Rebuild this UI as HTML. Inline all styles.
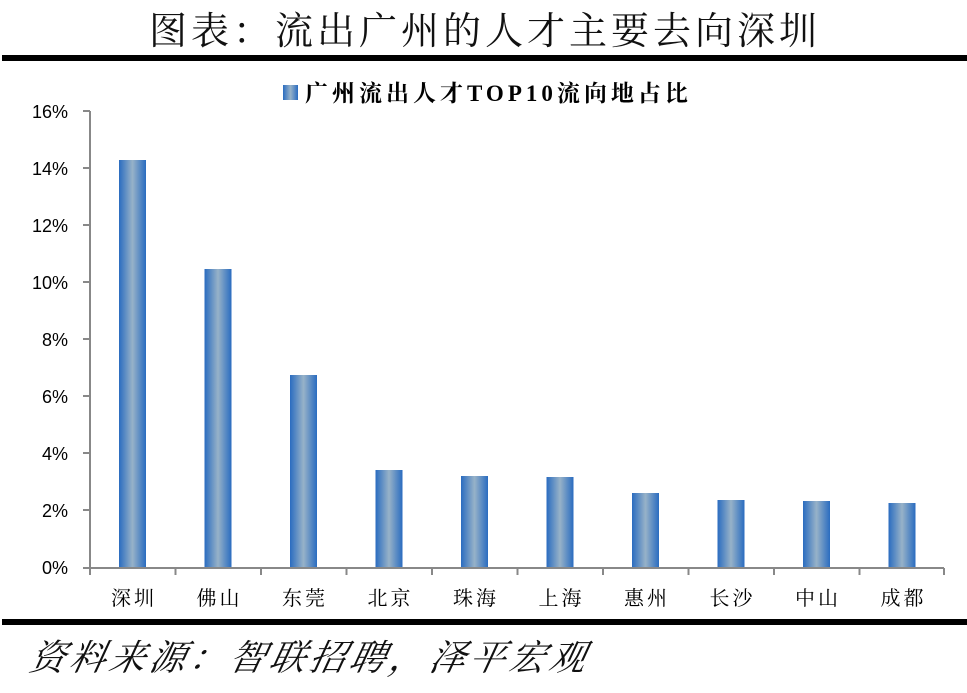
<!DOCTYPE html>
<html><head><meta charset="utf-8"><style>
body{margin:0;background:#fff;width:967px;height:688px;overflow:hidden}
</style></head><body>
<svg width="967" height="688" xmlns="http://www.w3.org/2000/svg">
<defs><linearGradient id="g" x1="0" x2="1" y1="0" y2="0">
<stop offset="0" stop-color="#2a6cc0"/><stop offset="0.5" stop-color="#97b2c8"/><stop offset="1" stop-color="#2a6cc0"/></linearGradient></defs>
<text x="485" y="44" text-anchor="middle" font-family="Liberation Serif, Noto Serif CJK SC, serif" font-size="38" letter-spacing="4" fill="#111">图表：流出广州的人才主要去向深圳</text>
<rect x="2" y="55" width="965" height="6" fill="#000"/>
<rect x="283" y="85" width="15" height="15" fill="url(#g)"/>
<text x="305" y="101" font-family="Liberation Serif, Noto Serif CJK SC, serif" font-weight="bold" font-size="23" letter-spacing="4" fill="#000">广州流出人才TOP10流向地占比</text>
<g font-family="Liberation Sans, sans-serif" font-size="18" fill="#000" text-anchor="end">
<text x="68" y="118">16%</text><text x="68" y="175">14%</text><text x="68" y="232">12%</text><text x="68" y="289">10%</text><text x="68" y="346">8%</text><text x="68" y="403">6%</text><text x="68" y="460">4%</text><text x="68" y="517">2%</text><text x="68" y="574">0%</text>
</g>
<g stroke="#888" stroke-width="2">
<line x1="90" y1="111" x2="90" y2="568"/><line x1="83" y1="568" x2="944" y2="568"/>
<line x1="83" y1="111" x2="90" y2="111"/><line x1="83" y1="168" x2="90" y2="168"/><line x1="83" y1="225" x2="90" y2="225"/><line x1="83" y1="282" x2="90" y2="282"/><line x1="83" y1="339" x2="90" y2="339"/><line x1="83" y1="396" x2="90" y2="396"/><line x1="83" y1="453" x2="90" y2="453"/><line x1="83" y1="510" x2="90" y2="510"/>
<line x1="175.5" y1="568" x2="175.5" y2="575"/><line x1="261" y1="568" x2="261" y2="575"/><line x1="346.5" y1="568" x2="346.5" y2="575"/><line x1="432" y1="568" x2="432" y2="575"/><line x1="517.5" y1="568" x2="517.5" y2="575"/><line x1="603" y1="568" x2="603" y2="575"/><line x1="688.5" y1="568" x2="688.5" y2="575"/><line x1="774" y1="568" x2="774" y2="575"/><line x1="859.5" y1="568" x2="859.5" y2="575"/><line x1="944" y1="568" x2="944" y2="575"/><line x1="90" y1="568" x2="90" y2="575"/>
</g>
<g fill="url(#g)">
<rect x="119" y="160" width="27" height="407"/>
<rect x="204.5" y="269" width="27" height="298"/>
<rect x="290" y="375" width="27" height="192"/>
<rect x="375.5" y="470" width="27" height="97"/>
<rect x="461" y="476" width="27" height="91"/>
<rect x="546.5" y="477" width="27" height="90"/>
<rect x="632" y="493" width="27" height="74"/>
<rect x="717.5" y="500" width="27" height="67"/>
<rect x="803" y="501" width="27" height="66"/>
<rect x="888.5" y="503" width="27" height="64"/>
</g>
<g font-family="Liberation Serif, Noto Serif CJK SC, serif" font-size="20" letter-spacing="3" fill="#000" text-anchor="middle">
<text x="134" y="605">深圳</text><text x="219.5" y="605">佛山</text><text x="305" y="605">东莞</text><text x="390.5" y="605">北京</text><text x="476" y="605">珠海</text><text x="561.5" y="605">上海</text><text x="647" y="605">惠州</text><text x="732.5" y="605">长沙</text><text x="818" y="605">中山</text><text x="903.5" y="605">成都</text>
</g>
<rect x="2" y="619" width="965" height="6" fill="#000"/>
<text x="30" y="670" font-family="Liberation Serif, Noto Serif CJK SC, serif" font-style="italic" font-size="36" letter-spacing="4" fill="#111" transform="skewX(-12) translate(140,0)">资料来源：智联招聘，泽平宏观</text>
</svg>
</body></html>
